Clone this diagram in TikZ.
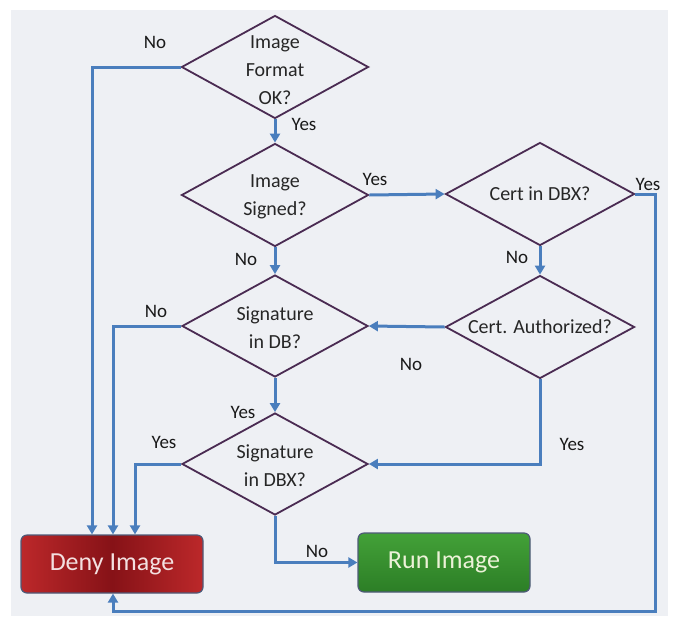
\documentclass[tikz,border=0pt]{standalone}
\usepackage{fontspec}
\setmainfont{Carlito}
\usetikzlibrary{shapes.geometric,arrows.meta}
\definecolor{bg}{HTML}{EEF0F4}
\definecolor{flow}{HTML}{4A7EBD}
\definecolor{dline}{HTML}{4A2B52}
\definecolor{redside}{HTML}{BC282A}
\definecolor{redmid}{HTML}{861217}
\definecolor{greentop}{HTML}{43A138}
\definecolor{greenbot}{HTML}{2C7E26}
\definecolor{boxline}{HTML}{4E5A78}
\definecolor{denytext}{HTML}{F3E0E0}
\definecolor{runtext}{HTML}{ECF2D8}
\begin{document}
\begin{tikzpicture}[x=1pt,y=-1pt,
  dia/.style={diamond, draw=dline, line width=1.8pt, minimum width=187pt, minimum height=103pt, inner sep=0pt},
  dtext/.style={align=center, font=\fontsize{20}{28}\selectfont, text=black!85},
  lbl/.style={font=\fontsize{19}{22}\selectfont, anchor=base, text=black!90},
  arr/.style={draw=flow, line width=3pt, -{Triangle[length=9pt,width=10pt]}},
  endbox/.style={rounded corners=6pt, minimum width=182pt, minimum height=58pt, line width=1.2pt, draw=boxline, font=\fontsize{26}{30}\selectfont}]
\useasboundingbox (0,0) rectangle (684,616);
\fill[bg] (11,10) rectangle (668,616);

% decision diamonds
\node[dia] (d1) at (275,67) {};
\node[dia] (d2) at (275,195) {};
\node[dia, minimum width=189pt] (d3) at (540,194) {};
\node[dia, minimum width=189pt] (d4) at (540,327) {};
\node[dia, minimum width=186pt, minimum height=102pt] (d5) at (275,326) {};
\node[dia, minimum width=186pt, minimum height=102pt] (d6) at (275,464) {};

\node[dtext] at ([yshift=-3pt]d1.center) {Image\\Format\\OK?};
\node[dtext] at ([yshift=-2pt]d2.center) {Image\\Signed?};
\node[dtext] at (d3.center) {Cert in DBX?};
\node[dtext] at (d4.center) {Cert. Authorized?};
\node[dtext] at ([yshift=-2pt]d5.center) {Signature\\in DB?};
\node[dtext] at ([yshift=-2pt]d6.center) {Signature\\in DBX?};

% terminal boxes
\node[endbox, left color=redside, right color=redside, middle color=redmid, text=denytext] (deny) at (112,564) {Deny Image};
\node[endbox, minimum width=172pt, minimum height=59pt, top color=greentop, bottom color=greenbot, text=runtext] (run) at (444,562.5) {Run Image};

% connectors
\coordinate (c1) at (655,611);
\draw[arr] (d1.west) -| ([xshift=-20pt]deny.north);
\draw[arr] (d1.south) -- (d2.north);
\draw[arr] (d2.east) -- (d3.west);
\draw[arr] (d2.south) -- (d5.north);
\draw[arr] (d3.south) -- (d4.north);
\draw[arr] (d3.east) -| (c1) -| ([xshift=1pt]deny.south);
\draw[arr] (d4.west) -- (d5.east);
\draw[arr] (d4.south) |- (d6.east);
\draw[arr] (d5.west) -| ([xshift=1pt]deny.north);
\draw[arr] (d5.south) -- (d6.north);
\draw[arr] (d6.west) -| ([xshift=23pt]deny.north);
\draw[arr] (d6.south) |- (run.west);

% labels
\node[lbl] at (155,48) {No};
\node[lbl] at (304,130) {Yes};
\node[lbl] at (375,185) {Yes};
\node[lbl] at (648,190) {Yes};
\node[lbl] at (246,265) {No};
\node[lbl] at (517,263) {No};
\node[lbl] at (156,317) {No};
\node[lbl] at (411,370) {No};
\node[lbl] at (243,418) {Yes};
\node[lbl] at (164,448) {Yes};
\node[lbl] at (572,450) {Yes};
\node[lbl] at (317,557) {No};
\end{tikzpicture}
\end{document}
